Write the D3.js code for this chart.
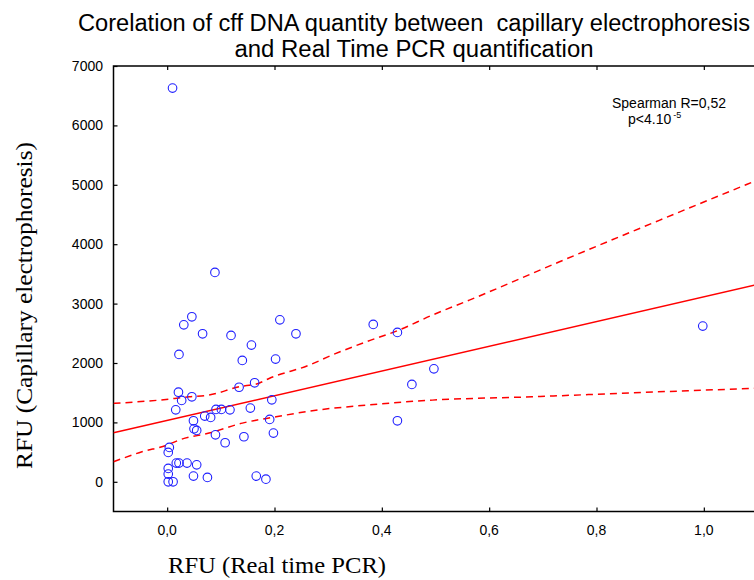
<!DOCTYPE html>
<html>
<head>
<meta charset="utf-8">
<script src="https://cdn.jsdelivr.net/npm/d3@7"></script>
<style>
  body { margin: 0; background: #fff; }
  svg { display: block; }
</style>
</head>
<body>
<script>
// scatter points: RFU real time PCR vs RFU capillary electrophoresis
const pcr = [0.010, 0.089, 0.046, 0.031, 0.066, 0.119, 0.210, 0.240, 0.157, 0.022,
  0.140, 0.202, 0.021, 0.046, 0.134, 0.163, 0.195, 0.027, 0.016, 0.091,
  0.101, 0.117, 0.070, 0.081, 0.155, 0.049, 0.191, 0.050, 0.055, 0.090,
  0.198, 0.108, 0.143, 0.004, 0.002, 0.017, 0.022, 0.037, 0.055, 0.002,
  0.002, 0.049, 0.075, 0.002, 0.011, 0.166, 0.184, 0.384, 0.429, 0.497,
  0.456, 0.429, 0.998];
const ce = [6628, 3525, 2778, 2643, 2492, 2465, 2727, 2492, 2301, 2145,
  2044, 2066, 1508, 1431, 1592, 1667, 1380, 1370, 1212, 1219,
  1219, 1212, 1106, 1084, 1241, 1027, 1050, 892, 865, 791,
  820, 657, 758, 579, 495, 315, 315, 315, 286, 226,
  130, 96, 74, 0, 0, 96, 45, 2650, 2515, 1902,
  1640, 1027, 2621];

// regression line end points
const fitX = [-0.1, 1.1];
const fitY = [825, 3321];

// 95% confidence band
const upperX = [-0.1, -0.015, 0.041, 0.078, 0.134, 0.171, 0.19, 0.265, 0.307, 0.371, 0.432, 0.494, 0.563, 0.73, 0.917, 1.1];
const upperY = [1320, 1375, 1430, 1460, 1600, 1660, 1740, 1965, 2133, 2357, 2554, 2806, 3058, 3700, 4402, 5080];
const lowerX = [-0.1, -0.047, 0, 0.022, 0.078, 0.14, 0.203, 0.265, 0.371, 0.494, 0.68, 0.866, 1.1];
const lowerY = [337, 505, 618, 702, 820, 988, 1094, 1190, 1291, 1375, 1431, 1498, 1575];

const xTicks = [0, 0.2, 0.4, 0.6, 0.8, 1.0];
const yTicks = [0, 1000, 2000, 3000, 4000, 5000, 6000, 7000];

const titleLines = ["Corelation of cff DNA quantity between  capillary electrophoresis",
  "and Real Time PCR quantification"];
const titleWidths = [672, 359];

const width = 754, height = 580;
const pLeft = 113.5, pRight = 757.5, pTop = 66, pBottom = 511.5;

const svg = d3.select("body").append("svg")
  .attr("width", width)
  .attr("height", height);

const x = d3.scaleLinear().domain([-0.1, 1.1]).range([pLeft, pRight]);
const y = d3.scaleLinear().domain([-500, 7000]).range([pBottom, pTop]);

const sans = "'Liberation Sans', Arial, sans-serif";
const serif = "'Liberation Serif', 'Times New Roman', serif";

// title (narrow face in the original, so stretch to its width)
svg.append("g").selectAll("text")
  .data(titleLines)
  .join("text")
  .attr("x", (d, i) => 414 - titleWidths[i] / 2)
  .attr("y", (d, i) => 31 + i * 26)
  .attr("textLength", (d, i) => titleWidths[i])
  .attr("lengthAdjust", "spacingAndGlyphs")
  .style("font-family", sans)
  .style("font-size", "23px")
  .style("white-space", "pre")
  .text(d => d);

// axes, ticks inward
const fmt = d => d3.format(".1f")(d).replace(".", ",");

const gx = svg.append("g")
  .attr("transform", `translate(0,${pBottom})`)
  .call(d3.axisTop(x).tickValues(xTicks).tickSize(4).tickFormat(""));
const gxTop = svg.append("g")
  .attr("transform", `translate(0,${pTop})`)
  .call(d3.axisBottom(x).tickValues(xTicks).tickSize(4).tickFormat(""));
const gy = svg.append("g")
  .attr("transform", `translate(${pLeft},0)`)
  .call(d3.axisRight(y).tickValues(yTicks).tickSize(4).tickFormat(""));

[gx, gxTop, gy].forEach(g => {
  g.select(".domain").remove();
  g.selectAll("line").attr("stroke", "#000").attr("stroke-width", 1.2);
});

// frame
svg.append("rect")
  .attr("x", pLeft).attr("y", pTop)
  .attr("width", pRight - pLeft).attr("height", pBottom - pTop)
  .attr("fill", "none")
  .attr("stroke", "#000")
  .attr("stroke-width", 1.5);

// tick labels
svg.append("g").selectAll("text")
  .data(xTicks)
  .join("text")
  .attr("x", d => x(d))
  .attr("y", 535)
  .attr("text-anchor", "middle")
  .style("font-family", sans)
  .style("font-size", "14px")
  .text(fmt);

svg.append("g").selectAll("text")
  .data(yTicks)
  .join("text")
  .attr("x", 103)
  .attr("y", d => y(d) + 5)
  .attr("text-anchor", "end")
  .style("font-family", sans)
  .style("font-size", "14px")
  .text(d => d);

// axis titles
svg.append("text")
  .attr("x", 168)
  .attr("y", 573)
  .attr("textLength", 218)
  .attr("lengthAdjust", "spacingAndGlyphs")
  .style("font-family", serif)
  .style("font-size", "23px")
  .text("RFU (Real time PCR)");

svg.append("text")
  .attr("transform", "translate(32,306) rotate(-90)")
  .attr("x", -163)
  .attr("textLength", 327)
  .attr("lengthAdjust", "spacingAndGlyphs")
  .style("font-family", serif)
  .style("font-size", "23px")
  .text("RFU (Capillary electrophoresis)");

// clip to plot
svg.append("clipPath").attr("id", "plot")
  .append("rect")
  .attr("x", pLeft).attr("y", pTop)
  .attr("width", pRight - pLeft).attr("height", pBottom - pTop);

const plot = svg.append("g").attr("clip-path", "url(#plot)");

const line = d3.line()
  .x(d => x(d[0]))
  .y(d => y(d[1]))
  .curve(d3.curveMonotoneX);

plot.append("path")
  .datum(d3.zip(fitX, fitY))
  .attr("d", line)
  .attr("fill", "none")
  .attr("stroke", "#ff0000")
  .attr("stroke-width", 1.5);

[[upperX, upperY], [lowerX, lowerY]].forEach(([bx, by]) => {
  plot.append("path")
    .datum(d3.zip(bx, by))
    .attr("d", line)
    .attr("fill", "none")
    .attr("stroke", "#ff0000")
    .attr("stroke-width", 1.5)
    .attr("stroke-dasharray", "7,5");
});

plot.append("g").selectAll("circle")
  .data(d3.zip(pcr, ce))
  .join("circle")
  .attr("cx", d => x(d[0]))
  .attr("cy", d => y(d[1]))
  .attr("r", 4.3)
  .attr("fill", "none")
  .attr("stroke", "#2020ff")
  .attr("stroke-width", 1.1);

// annotation
svg.append("text")
  .attr("x", 612)
  .attr("y", 108)
  .style("font-family", sans)
  .style("font-size", "14px")
  .text("Spearman R=0,52");

const p = svg.append("text")
  .attr("x", 628)
  .attr("y", 124)
  .style("font-family", sans)
  .style("font-size", "14px");
p.append("tspan").text("p<4.10");
p.append("tspan")
  .attr("dx", 2)
  .attr("dy", -6)
  .style("font-size", "9px")
  .text("-5");
</script>
</body>
</html>
